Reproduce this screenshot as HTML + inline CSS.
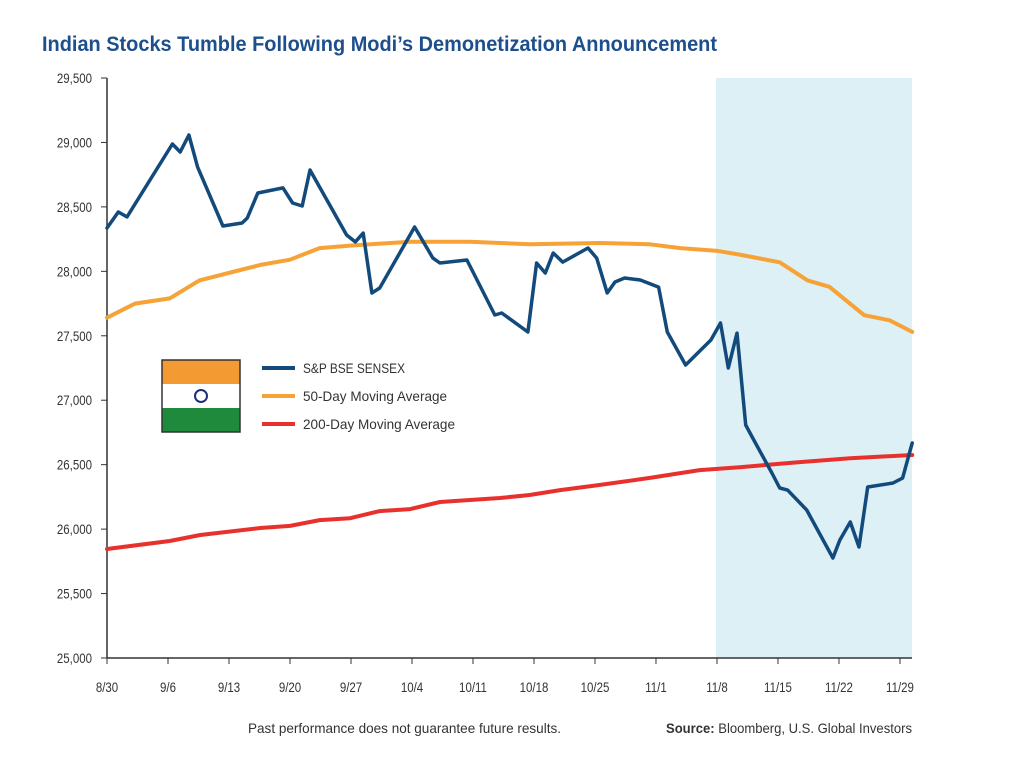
<!DOCTYPE html>
<html><head><meta charset="utf-8">
<style>
body{margin:0;background:#fff;}
svg{display:block;font-family:"Liberation Sans Narrow","Liberation Sans",sans-serif;}
</style></head>
<body>
<svg id="chart" width="1024" height="768" viewBox="0 0 1024 768">
<text x="42" y="51" font-size="21" font-weight="bold" fill="#1d4f8c" textLength="675" lengthAdjust="spacingAndGlyphs">Indian Stocks Tumble Following Modi’s Demonetization Announcement</text>
<rect x="716" y="78" width="196" height="580" fill="#dcf0f6"/>
<g id="axes"></g>
<g id="series"></g>
<g>
<g>
<rect x="162" y="360" width="78" height="24" fill="#f49a32"/>
<rect x="162" y="384" width="78" height="24" fill="#fff"/>
<rect x="162" y="408" width="78" height="24" fill="#1f8a3c"/>
<rect x="162" y="360" width="78" height="72" fill="none" stroke="#333" stroke-width="1.5"/>
<circle cx="201" cy="396" r="6" fill="none" stroke="#1d2f7a" stroke-width="2"/>
</g>
<line x1="262" y1="368" x2="295" y2="368" stroke="#134a7c" stroke-width="4"/>
<text x="303" y="373" font-size="14" fill="#333" textLength="102" lengthAdjust="spacingAndGlyphs">S&amp;P BSE SENSEX</text>
<line x1="262" y1="396" x2="295" y2="396" stroke="#f6a236" stroke-width="4"/>
<text x="303" y="401" font-size="14" fill="#333" textLength="144" lengthAdjust="spacingAndGlyphs">50-Day Moving Average</text>
<line x1="262" y1="424" x2="295" y2="424" stroke="#e8312c" stroke-width="4"/>
<text x="303" y="429" font-size="14" fill="#333" textLength="152" lengthAdjust="spacingAndGlyphs">200-Day Moving Average</text>
</g>
<text x="248" y="733" font-size="14" fill="#333" textLength="313" lengthAdjust="spacingAndGlyphs">Past performance does not guarantee future results.</text>
<text x="666" y="733" font-size="14" fill="#333" textLength="246" lengthAdjust="spacingAndGlyphs"><tspan font-weight="bold">Source:</tspan> Bloomberg, U.S. Global Investors</text>
</svg>
<script>
const xTickLabels=["8/30","9/6","9/13","9/20","9/27","10/4","10/11","10/18","10/25","11/1","11/8","11/15","11/22","11/29"];
const yTicks=[25000,25500,26000,26500,27000,27500,28000,28500,29000,29500];
const sensexDays=[0,1.3,2.3,7.5,8.4,9.4,10.4,13.3,15.5,16.1,17.3,20.2,21.3,22.4,23.3,27.5,28.5,29.4,30.4,31.3,35.3,37.4,38.2,41.3,44.5,45.3,48.3,49.3,50.3,51.2,52.3,55.2,56.2,57.4,58.3,59.4,61.2,63.3,64.3,65,66.4,69.3,70.4,71.3,72.3,73.3,74.1,76.3,77.2,78.1,80.3,83.3,84.1,85.3,86.3,87.3,90.2,91.3,92.4];
const sensexValues=[28336,28460,28422,28988,28926,29058,28809,28352,28375,28414,28608,28647,28530,28507,28786,28282,28228,28297,27832,27871,28344,28103,28065,28088,27661,27677,27529,28065,27987,28142,28072,28181,28103,27832,27917,27948,27933,27878,27529,27444,27273,27467,27599,27250,27521,26808,26707,26435,26319,26303,26148,25776,25915,26055,25861,26327,26358,26396,26668];
const ma50Days=[0,3.2,7.2,10.6,15.3,17.6,21.0,24.4,27.9,34.8,41.6,48.5,56.6,62.3,65.8,69.9,72.6,77.2,80.4,82.9,86.9,89.8,92.4];
const ma50Values=[27640,27750,27790,27930,28010,28050,28090,28180,28200,28230,28230,28210,28220,28210,28180,28160,28130,28070,27930,27880,27660,27620,27530];
const ma200Days=[0,7.2,10.7,17.6,21.0,24.4,27.9,31.3,34.8,38.2,45.1,48.5,52,56.5,62.3,68,72.6,79.5,85.3,92.4];
const ma200Values=[25846,25908,25954,26009,26025,26070,26085,26140,26155,26210,26241,26265,26303,26342,26397,26458,26480,26520,26550,26575];

const NS="http://www.w3.org/2000/svg";
const X0=107,DAYPX=8.714,Y0=658,YPX=580/4500;
function xs(d){return X0+d*DAYPX;}
function ys(v){return Y0-(v-25000)*YPX;}
function mk(tag,attrs,parent){const e=document.createElementNS(NS,tag);for(const k in attrs)e.setAttribute(k,attrs[k]);parent.appendChild(e);return e;}
const axes=document.getElementById('axes');
yTicks.forEach(v=>{
  const t=mk('line',{x1:X0-6,x2:X0,y1:ys(v),y2:ys(v),stroke:'#333','stroke-width':1},axes);
  
  
  const l=mk('text',{transform:'translate('+(X0-15)+','+(ys(v)+5)+') scale(0.82,1)','font-size':14,fill:'#333','text-anchor':'end'},axes);
  
  
  l.textContent=v.toLocaleString('en-US');
});
xTickLabels.forEach((s,i)=>{
  const x=xs(i*7);
  const t=mk('line',{x1:x,x2:x,y1:Y0,y2:Y0+6,stroke:'#333','stroke-width':1},axes);
  
  
  const l=mk('text',{transform:'translate('+x+','+(Y0+34)+') scale(0.82,1)','font-size':14,fill:'#333','text-anchor':'middle'},axes);
  
  
  l.textContent=s;
});
const ya=mk('line',{x1:X0,x2:X0,y1:78,y2:Y0,stroke:'#333','stroke-width':1.5},axes);


const xa=mk('line',{x1:X0,x2:912,y1:Y0,y2:Y0,stroke:'#333','stroke-width':1.5},axes);


const series=document.getElementById('series');
function line(days,vals,color,w){
  const pts=days.map((d,i)=>xs(d).toFixed(1)+','+ys(vals[i]).toFixed(1)).join(' ');
  return mk('polyline',{points:pts,fill:'none',stroke:color,'stroke-width':w,'stroke-linejoin':'round','stroke-linecap':'round'},series);
}
const r=line(ma200Days,ma200Values,'#e8312c',4);


const o=line(ma50Days,ma50Values,'#f6a236',4);


const s=line(sensexDays,sensexValues,'#134a7c',3.5);


</script>
</body></html>
